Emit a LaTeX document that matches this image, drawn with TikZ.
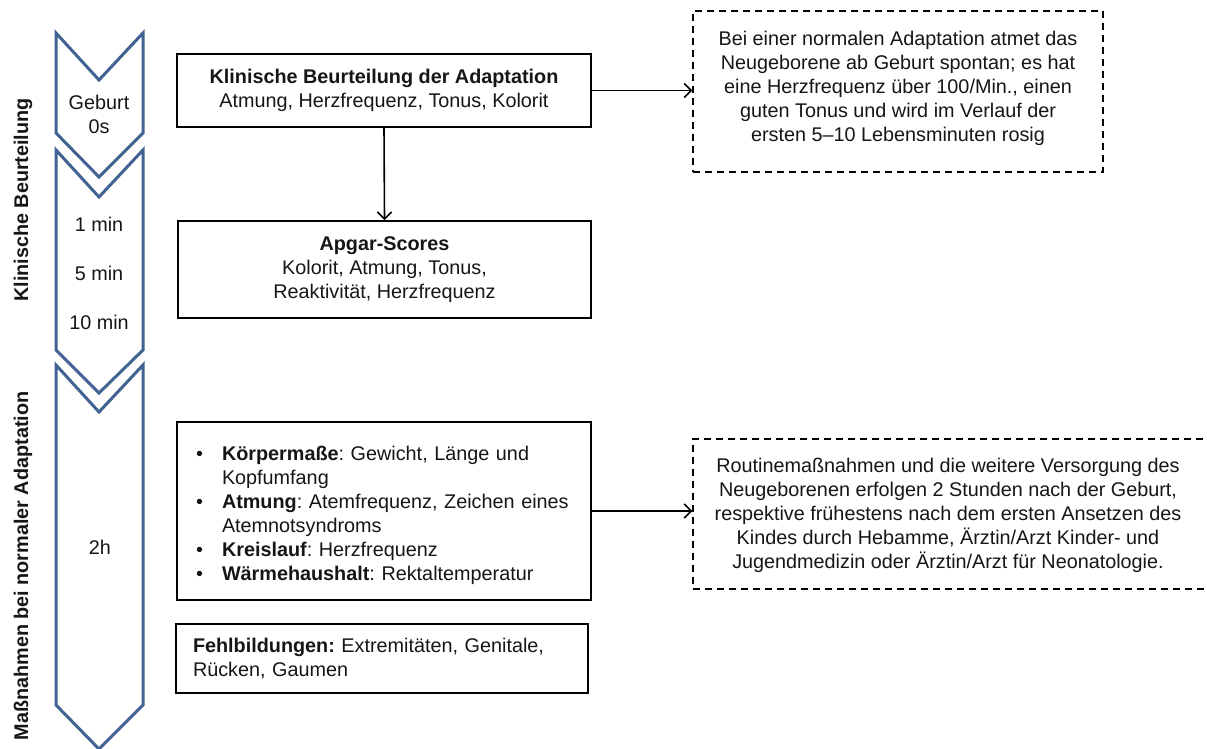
\documentclass[tikz,border=0pt]{standalone}
\usepackage{fontspec}
\setmainfont{Liberation Sans}
\usetikzlibrary{arrows.meta}
\definecolor{chevblue}{RGB}{65,99,145}
\definecolor{ink}{RGB}{22,22,22}
\frenchspacing

% bullet list entry with hanging indent; \hfil\break keeps the indent on wrapped lines
\newcommand{\bulletitem}[1]{\par\noindent\hangindent=26pt\hangafter=1\makebox[26pt][l]{\textbullet}#1\par}
\newcommand{\wrapline}{\hfil\break}

\tikzset{
  base/.style={font=\fontsize{19.8}{24}\selectfont, text=ink},
  boldbase/.style={font=\fontsize{19.8}{24}\selectfont\bfseries, text=ink},
  box/.style={base, draw=black, line width=1.8pt, inner sep=0pt},
  note/.style={draw=black, line width=1.4pt, dash pattern=on 7pt off 5pt},
  chev/.style={draw=chevblue, line width=3pt, fill=white, line join=miter},
  link/.style={line width=1.6pt, -{Straight Barb[length=7pt,width=14pt]}}
}

\begin{document}
\begin{tikzpicture}[x=1pt,y=-1pt]
\useasboundingbox (0,0) rectangle (1207,749);
\fill[white] (0,0) rectangle (1207,749);
\clip (0,0) rectangle (1207,749);

% phase chevrons
\draw[chev] (56,33) -- (99,80) -- (143,33) -- (143,133) -- (99,177) -- (56,133) -- cycle;
\draw[chev] (56,150) -- (99,197) -- (143,150) -- (143,350) -- (99,393) -- (56,350) -- cycle;
\draw[chev] (56,365) -- (99,412) -- (143,365) -- (143,705) -- (99,749) -- (56,705) -- cycle;

% chevron labels
\node[base, align=center] (t0) at (99,114) {Geburt\\0s};
\node[base] (t1) at (99,224) {1 min};
\node[base] (t5) at (99,273) {5 min};
\node[base] (t10) at (99,322) {10 min};
\node[base] (t2h) at (100,547) {2h};

% phase titles
\node[boldbase, rotate=90] (phase1) at (23,200) {Klinische Beurteilung};
\node[boldbase, rotate=90] (phase2) at (23,566) {Maßnahmen bei normaler Adaptation};

% main boxes
\node[box, minimum width=414pt, minimum height=73pt, align=center] (kba) at (384,90.5)
  {\textbf{Klinische Beurteilung der Adaptation}\\Atmung, Herzfrequenz, Tonus, Kolorit};
\node[box, minimum width=413pt, minimum height=97pt, align=center] (apgar) at (384.5,269.5)
  {\textbf{Apgar-Scores}\\Kolorit, Atmung, Tonus,\\Reaktivität, Herzfrequenz};
\node[box, text width=376pt, inner xsep=19pt, minimum height=178pt, align=left] (mass) at (384,511)
  {\bulletitem{\textbf{Körpermaße}: Gewicht, Länge und\wrapline Kopfumfang}%
   \bulletitem{\textbf{Atmung}: Atemfrequenz, Zeichen eines\wrapline Atemnotsyndroms}%
   \bulletitem{\textbf{Kreislauf}: Herzfrequenz}%
   \bulletitem{\textbf{Wärmehaushalt}: Rektaltemperatur}};
\node[box, text width=378pt, inner xsep=17pt, minimum height=69pt, align=left] (fehl) at (382,658.5)
  {\textbf{Fehlbildungen:} Extremitäten, Genitale,\\Rücken, Gaumen};

% explanatory notes
\node[note, minimum width=410pt, minimum height=161pt] (n1) at (898,91.5) {};
\node[base, align=center] (n1txt) at (898,88.5)
  {Bei einer normalen Adaptation atmet das\\Neugeborene ab Geburt spontan; es hat\\eine Herzfrequenz über 100/Min., einen\\guten Tonus und wird im Verlauf der\\ersten 5–10 Lebensminuten rosig};
\node[note, minimum width=522pt, minimum height=150pt] (n2) at (954,514) {};
\node[base, align=center] (n2txt) at (948,515)
  {Routinemaßnahmen und die weitere Versorgung des\\Neugeborenen erfolgen 2 Stunden nach der Geburt,\\respektive frühestens nach dem ersten Ansetzen des\\Kindes durch Hebamme, Ärztin/Arzt Kinder- und\\Jugendmedizin oder Ärztin/Arzt für Neonatologie.};

% connectors
\draw[link] (kba.south) -- (apgar.north);
\draw[link] (kba.east) -- (kba.east -| n1.west);
\draw[link] (mass.east) -- (mass.east -| n2.west);
\end{tikzpicture}
\end{document}
